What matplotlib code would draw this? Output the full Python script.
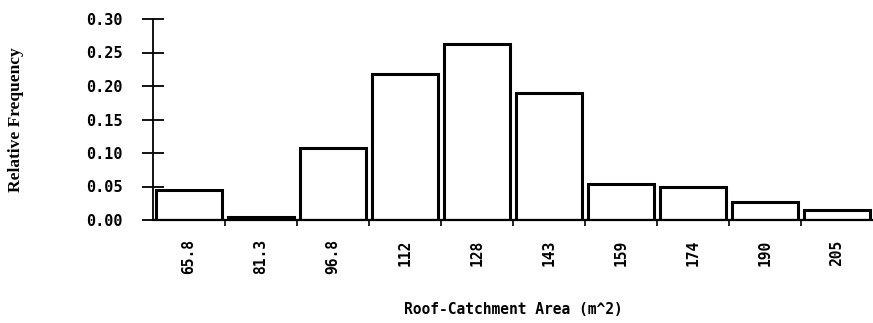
import numpy as np
from matplotlib import pyplot as plt
from matplotlib.ticker import FixedLocator

areas = ['65.8', '81.3', '96.8', '112', '128', '143', '159', '174', '190', '205']
freq = [0.045, 0.005, 0.107, 0.218, 0.263, 0.190, 0.054, 0.049, 0.027, 0.015]
yticks = [0.00, 0.05, 0.10, 0.15, 0.20, 0.25, 0.30]

fig = plt.figure(figsize=(8.73, 3.23), dpi=100)
ax = fig.add_axes([153/873, 1-220/323, 720/873, 201/323])

x = np.arange(len(areas))
ax.bar(x, freq, width=0.92, color='white', edgecolor='black', linewidth=2.2)

ax.set_xlim(-0.5, len(areas)-0.5)
ax.set_ylim(0, 0.30)
for s in ['top', 'right']:
    ax.spines[s].set_visible(False)
ax.spines['left'].set_linewidth(1.3)
ax.spines['bottom'].set_linewidth(1.6)

ax.set_xticks(x)
ax.set_xticklabels(areas, rotation=90, family='DejaVu Sans Mono', fontsize=10.5, fontweight='bold')
ax.tick_params(axis='x', which='major', length=0, pad=14)
ax.xaxis.set_minor_locator(FixedLocator(x[1:]-0.5))
ax.tick_params(axis='x', which='minor', length=4, width=1.2, direction='out')

ax.set_yticks(yticks)
ax.set_yticklabels(['0.%02d' % round(v*100) for v in yticks], family='DejaVu Sans Mono',
                   fontsize=11, fontweight='bold')
ax.tick_params(axis='y', length=16, width=1.3, direction='inout', pad=14)

ax.set_xlabel('Roof-Catchment Area (m^2)', family='DejaVu Sans Mono', fontsize=10.5,
              fontweight='bold')
ax.xaxis.set_label_coords(0.5, (220-302)/201)
ax.set_ylabel('Relative Frequency', family='Liberation Serif', fontsize=12.5,
              fontweight='bold')
ax.yaxis.set_label_coords((24-153)/720, 0.5)

plt.savefig('out.png', dpi=100)
